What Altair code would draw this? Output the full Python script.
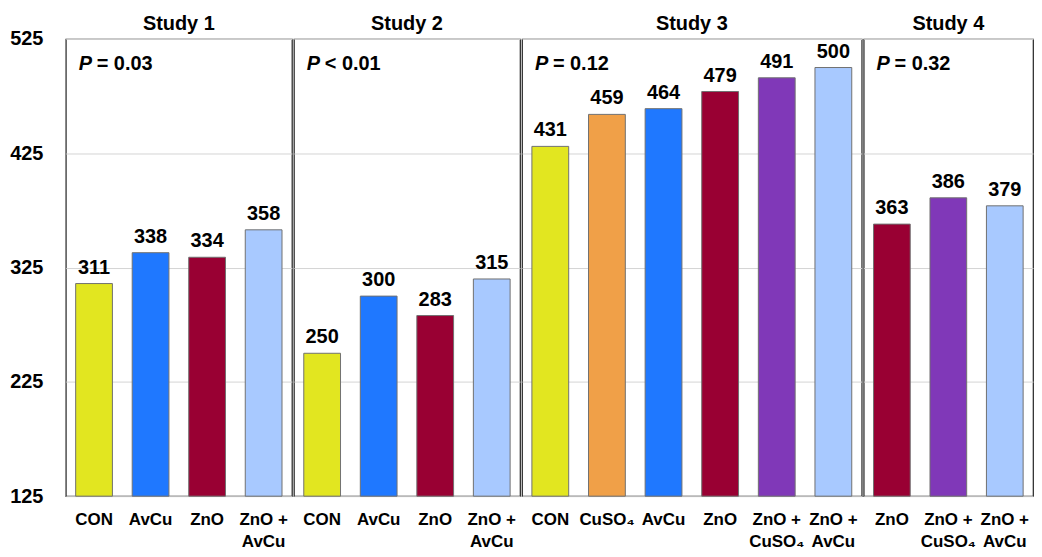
import altair as alt
import pandas as pd

FONT = "Liberation Sans, Arial, sans-serif"

studies = ["Study 1", "Study 2", "Study 3", "Study 4"]
p_texts = ["= 0.03", "< 0.01", "= 0.12", "= 0.32"]

s1_labels = ["CON", "AvCu", "ZnO", "ZnO +|AvCu"]
s1_values = [311, 338, 334, 358]

s2_labels = ["CON", "AvCu", "ZnO", "ZnO +|AvCu"]
s2_values = [250, 300, 283, 315]

s3_labels = ["CON", "CuSO₄", "AvCu", "ZnO", "ZnO +|CuSO₄", "ZnO +|AvCu"]
s3_values = [431, 459, 464, 479, 491, 500]

s4_labels = ["ZnO", "ZnO +|CuSO₄", "ZnO +|AvCu"]
s4_values = [363, 386, 379]

y_ticks = [125, 225, 325, 425, 525]

color_map = {
    "CON": "#E2E620",
    "AvCu": "#1F78FF",
    "ZnO": "#990033",
    "ZnO +|AvCu": "#A8C9FF",
    "CuSO₄": "#F0A048",
    "ZnO +|CuSO₄": "#8038B8",
}

PLOT_H = 459
STEP = 56.8


def panel(title, labels, values, ptext, show_y):
    width = round(STEP * len(labels))
    df = pd.DataFrame({
        "label": labels,
        "value": values,
        "color": [color_map[l] for l in labels],
    })
    x = alt.X(
        "label:N", sort=labels,
        scale=alt.Scale(paddingInner=0.35, paddingOuter=0.175),
        axis=alt.Axis(
            title=None, labelAngle=0, labelExpr="split(datum.value, '|')",
            ticks=False, domain=False, labelPadding=15, labelFontSize=17,
            labelFont=FONT, labelFontWeight="bold", labelColor="black",
            labelLineHeight=23, labelBaseline="top",
        ),
    )
    y = alt.Y(
        "value:Q",
        scale=alt.Scale(domain=[125, 525], nice=False, zero=False),
        axis=alt.Axis(
            title=None, values=y_ticks, labels=show_y, grid=True,
            gridColor="#d4d4d4", gridWidth=1, ticks=False, domain=False,
            labelFontSize=20, labelFont=FONT, labelFontWeight="bold",
            labelColor="black", labelPadding=23,
        ),
    )
    base = alt.Chart(df)
    bars = base.mark_bar(stroke="#707070", strokeWidth=1).encode(
        x=x, y=y, y2=alt.datum(125), color=alt.Color("color:N", scale=None)
    )
    nums = base.mark_text(
        dy=-6, baseline="bottom", fontSize=20, font=FONT, fontWeight="bold",
        color="black",
    ).encode(x=x, y=y, text="value:Q")
    pdf = pd.DataFrame({"p": ["P"], "t": [ptext], "title": [title]})
    p1 = alt.Chart(pdf).mark_text(
        align="left", baseline="middle", fontSize=20, font=FONT,
        fontWeight="bold", fontStyle="italic", color="black",
    ).encode(text="p:N", x=alt.value(13), y=alt.value(25))
    p2 = alt.Chart(pdf).mark_text(
        align="left", baseline="middle", fontSize=20, font=FONT,
        fontWeight="bold", color="black",
    ).encode(text="t:N", x=alt.value(31), y=alt.value(25))
    ttl = alt.Chart(pdf).mark_text(
        align="center", baseline="bottom", fontSize=20, font=FONT,
        fontWeight="bold", color="black",
    ).encode(text="title:N", x=alt.value(width / 2), y=alt.value(-5))
    return alt.layer(bars, nums, p1, p2, ttl).properties(
        width=width, height=PLOT_H,
    )


chart = alt.hconcat(
    panel(studies[0], s1_labels, s1_values, p_texts[0], True),
    panel(studies[1], s2_labels, s2_values, p_texts[1], False),
    panel(studies[2], s3_labels, s3_values, p_texts[2], False),
    panel(studies[3], s4_labels, s4_values, p_texts[3], False),
    spacing=0,
).properties(
    padding={"left": 1, "top": 4, "right": 0, "bottom": 0}
).configure_view(
    stroke="#222222", strokeWidth=1.2
).configure_concat(spacing=0)

chart.save("out.html", embed_options={"renderer": "svg", "actions": False})
